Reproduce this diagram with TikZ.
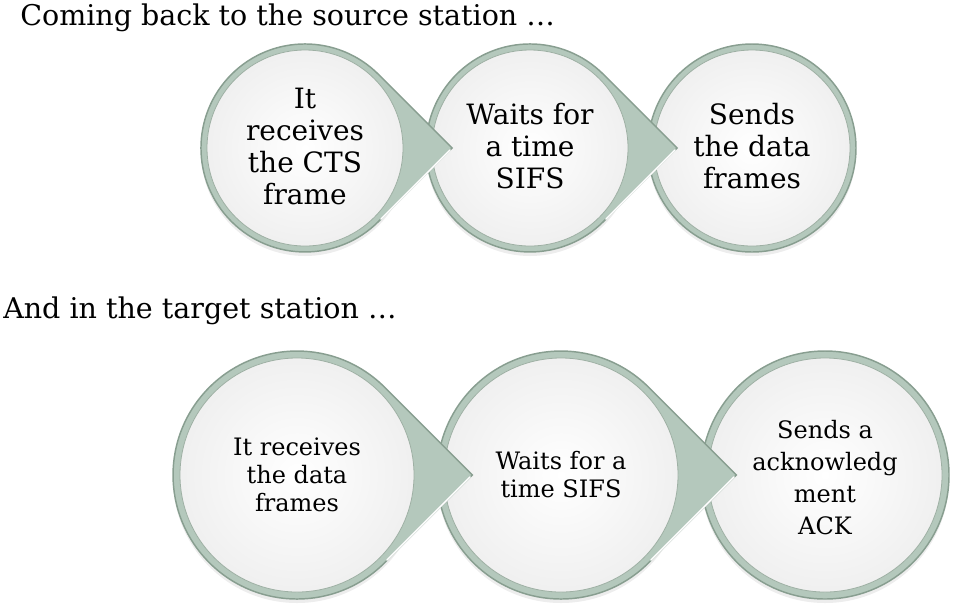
\documentclass[tikz,border=0pt]{standalone}
\usepackage{fontspec}
\setmainfont{DejaVu Serif}
\usepackage{tikz}
\usepackage{xcolor}

\begin{document}
\begin{tikzpicture}[x=0.75pt,y=0.75pt,yscale=-1,xscale=1,
  drop/.style={draw={rgb, 255:red, 136; green, 158; blue, 144 }, line width=1.1pt, fill={rgb, 255:red, 180; green, 200; blue, 188 }},
  disc/.style={draw={rgb, 255:red, 158; green, 176; blue, 164 }, line width=0.6pt, inner color=white, outer color=black!6},
  shade/.style={fill=black, fill opacity=0.07, draw=none},
  gleam/.style={draw=white, line width=1.2pt, line cap=round},
  bigtext/.style={align=center, inner sep=0.75pt, font=\fontsize{21}{24}\selectfont},
  smalltext/.style={align=center, inner sep=0.75pt, font=\fontsize{18}{21}\selectfont},
  headtext/.style={anchor=base west, inner sep=0pt, font=\fontsize{21.4}{26}\selectfont}]
\useasboundingbox (0,0) rectangle (963,608);

% Text Node
\draw (20,25) node (srcHead) [headtext] {Coming back to the source station …};
% Text Node
\draw (3,318) node (dstHead) [headtext] {And in the target station …};

%Shapes: Circle [id:src3] 
\fill [shade] (752,152) circle (104);
\draw [drop] (752,148) circle (104);
\draw [disc] (752,148) circle (98);
%Shapes: Teardrop [id:src2] 
\fill [shade] (530,152) circle (104);
\draw [drop] (677.1,148) -- (603.5,221.5) arc (45:315:104) -- cycle ;
\draw [gleam] (675,150) -- (606,219) ;
\draw [disc] (530,148) circle (98);
%Shapes: Teardrop [id:src1] 
\fill [shade] (305,152) circle (104);
\draw [drop] (452.1,148) -- (378.5,221.5) arc (45:315:104) -- cycle ;
\draw [gleam] (450,150) -- (381,219) ;
\draw [disc] (305,148) circle (98);

%Shapes: Circle [id:dst3] 
\fill [shade] (825,479) circle (124);
\draw [drop] (825,475) circle (124);
\draw [disc] (825,475) circle (117);
%Shapes: Teardrop [id:dst2] 
\fill [shade] (561,479) circle (124);
\draw [drop] (736.4,475) -- (648.7,562.7) arc (45:315:124) -- cycle ;
\draw [gleam] (734,477) -- (651,560) ;
\draw [disc] (561,475) circle (117);
%Shapes: Teardrop [id:dst1] 
\fill [shade] (297,479) circle (124);
\draw [drop] (472.4,475) -- (384.7,562.7) arc (45:315:124) -- cycle ;
\draw [gleam] (470,477) -- (387,560) ;
\draw [disc] (297,475) circle (117);

% Text Node
\draw (305,146) node (getCts) [bigtext] {It\\receives\\the CTS\\frame};
% Text Node
\draw (530,146) node (waitSrc) [bigtext] {Waits for\\a time\\SIFS};
% Text Node
\draw (752,146) node (sendData) [bigtext] {Sends\\the data\\frames};
% Text Node
\draw (297,475) node (getData) [smalltext] {It receives\\the data\\frames};
% Text Node
\draw (561,475) node (waitDst) [smalltext] {Waits for a\\time SIFS};
% Text Node
\draw (825,478) node (sendAck) [smalltext, font=\fontsize{18}{24}\selectfont] {Sends a\\acknowledg\\ment\\ACK};

\end{tikzpicture}
\end{document}
